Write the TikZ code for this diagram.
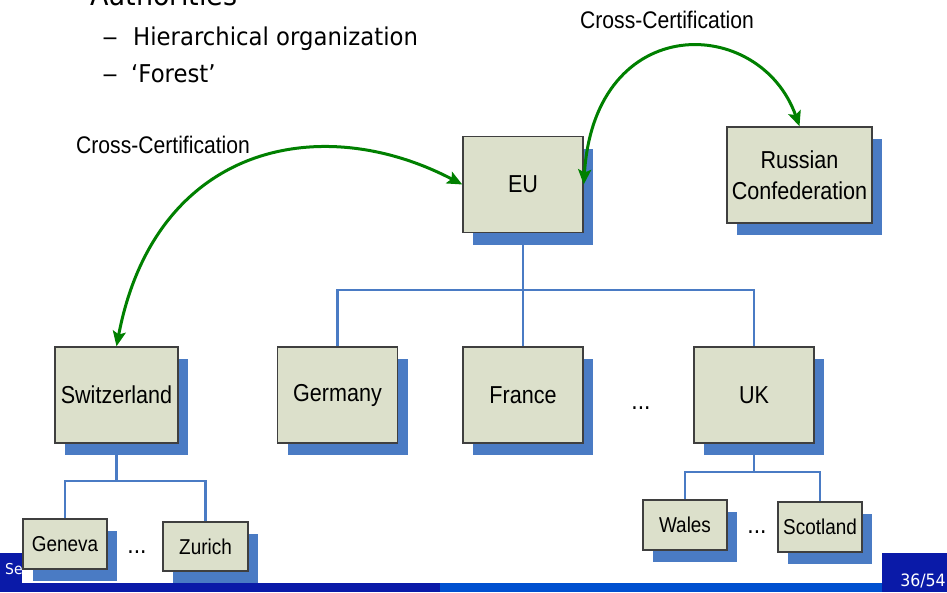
\documentclass[tikz,border=0pt]{standalone}
\usepackage{fontspec}
\setmainfont{Liberation Sans}
\newfontfamily\diagfont[FakeStretch=0.88]{Liberation Sans}
\newfontfamily\slidefont[FakeStretch=0.93]{DejaVu Sans}
\usetikzlibrary{arrows.meta,shadows}

\definecolor{boxfill}{HTML}{DCE0CB}
\definecolor{boxline}{HTML}{3F3F3F}
\definecolor{shadowblue}{HTML}{4A7BC4}
\definecolor{linkblue}{HTML}{4A7BC4}
\definecolor{crossgreen}{HTML}{008000}
\definecolor{footdark}{HTML}{0A1AA8}
\definecolor{footlight}{HTML}{0050D0}

\begin{document}
\begin{tikzpicture}[x=1pt,y=-1pt,
  ca/.style={draw=boxline, line width=1.4pt, fill=boxfill,
    drop shadow={shadow xshift=10pt, shadow yshift=-12pt, fill=shadowblue, opacity=1, draw=none},
    inner sep=0pt, align=center, text=black,
    font=\diagfont\fontsize{24.5}{31}\selectfont},
  bigca/.style={ca, minimum width=120pt, minimum height=96pt},
  smallca/.style={ca, minimum width=84pt, minimum height=50pt,
    font=\diagfont\fontsize{21.5}{26}\selectfont},
  tree/.style={draw=linkblue, line width=2.2pt},
  tip/.tip={Stealth[length=15pt,width=13pt,inset=3pt]},
  cross/.style={draw=crossgreen, line width=3pt, tip-tip},
  lbl/.style={inner sep=0pt, text=black, font=\diagfont\fontsize{24}{28}\selectfont},
  dots/.style={inner sep=0pt, font=\diagfont\fontsize{26}{30}\selectfont},
  slide/.style={inner sep=0pt, anchor=base west, font=\slidefont\fontsize{24.5}{30}\selectfont},
  foot/.style={inner sep=0pt, text=white, font=\slidefont\fontsize{17}{20}\selectfont}
]
\useasboundingbox (0,0) rectangle (947,592);
\clip (0,0) rectangle (947,592);

% footer blocks
\fill[footdark] (0,553) rectangle (22,592);
\fill[footdark] (882,553) rectangle (947,592);
\node[foot, anchor=base west, font=\slidefont\fontsize{15}{18}\selectfont] (footl) at (5,574) {Se};
\node[foot, anchor=base east] (footr) at (946,586) {36/54};

% slide bullets
\node[slide, font=\slidefont\fontsize{29}{34}\selectfont] (auth) at (90,5) {Authorities};
\node[slide] (dash1) at (102,45) {\scalebox{1.4}[1]{–}};
\node[slide] (item1) at (133,45) {Hierarchical organization};
\node[slide] (dash2) at (102,82) {\scalebox{1.4}[1]{–}};
\node[slide] (item2) at (131,82) {‘Forest’};

% tree junctions
\coordinate (topbar) at (523,290);
\coordinate (swbar) at (116.5,481);
\coordinate (ukbar) at (754,472);

% certification authorities
\node[bigca] (eu) at (523,184.5) {EU};
\node[bigca, minimum width=145pt] (ru) at (799.5,175) {Russian\\Confederation};
\node[bigca, minimum width=123pt] (ch) at (116.5,395) {Switzerland};
\node[bigca] (de) at (337.5,395) {Germany};
\node[bigca] (fr) at (523,395) {France};
\node[bigca] (uk) at (754,395) {UK};
\node[smallca] (ge) at (65,544) {Geneva};
\node[smallca, minimum width=85pt, minimum height=49pt] (zh) at (205.5,546.5) {Zurich};
\node[smallca] (wa) at (685,525) {Wales};
\node[smallca] (sc) at (820,527) {Scotland};

\draw[tree] (eu.south) -- (topbar);
\draw[tree] (de.north) |- (topbar) -| (uk.north);
\draw[tree] (topbar) -- (fr.north);
\draw[tree] (ch.south) -- (swbar);
\draw[tree] (ge.north) |- (swbar) -| (zh.north);
\draw[tree] (uk.south) -- (ukbar);
\draw[tree] (wa.north) |- (ukbar) -| (sc.north);

\node[dots] (d1) at (137,552) {...};
\node[dots] (d2) at (641,408) {...};
\node[dots] (d3) at (757,532) {...};

% cross-certification links
\draw[cross] (ch.north) .. controls (155,145) and (320,110) .. (eu.west);
\draw[cross] (eu.east) .. controls (595,10) and (760,15) .. (ru.north);

\node[lbl, anchor=west] (cc1) at (76,145) {Cross-Certification};
\node[lbl, anchor=west] (cc2) at (580,20) {Cross-Certification};

% bottom bar
\fill[footdark] (0,583) rectangle (440,592);
\fill[footlight] (440,583) rectangle (882,592);
\end{tikzpicture}
\end{document}
